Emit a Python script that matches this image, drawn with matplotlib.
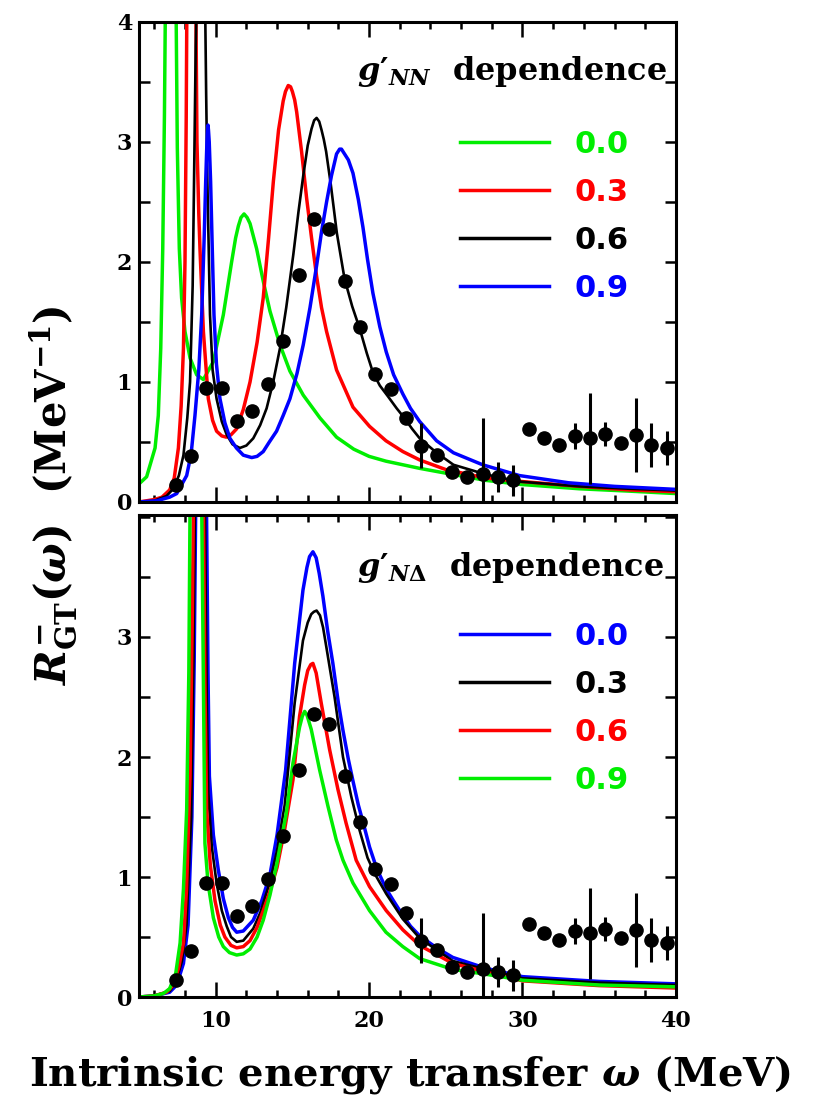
import numpy as np
import matplotlib
matplotlib.use('Agg')
import matplotlib.pyplot as plt
from matplotlib.ticker import MultipleLocator
from matplotlib.lines import Line2D

plt.rcParams['mathtext.fontset'] = 'custom'
plt.rcParams['mathtext.rm'] = 'DejaVu Serif:bold'
plt.rcParams['mathtext.it'] = 'DejaVu Serif:italic:bold'
plt.rcParams['mathtext.bf'] = 'DejaVu Serif:bold'

GREEN, RED, BLUE, BLACK = '#00ee00', '#ff0000', '#0000ff', '#000000'

# ---- experimental points (same in both panels) ----
data_x = [7.4, 8.4, 9.4, 10.4, 11.4, 12.4, 13.4, 14.4, 15.4, 16.4, 17.4, 18.4, 19.4,
          20.4, 21.4, 22.4, 23.4, 24.4, 25.4, 26.4, 27.4, 28.4, 29.4, 30.4, 31.4,
          32.4, 33.4, 34.4, 35.4, 36.4, 37.4, 38.4, 39.4]
data_y = [0.14, 0.38, 0.95, 0.95, 0.675, 0.76, 0.98, 1.34, 1.89, 2.36, 2.275, 1.84, 1.46,
          1.07, 0.94, 0.70, 0.47, 0.39, 0.25, 0.21, 0.23, 0.21, 0.18, 0.61, 0.53,
          0.475, 0.55, 0.53, 0.57, 0.49, 0.56, 0.475, 0.45]
data_err = [0, 0, 0, 0, 0, 0, 0, 0, 0, 0, 0, 0, 0,
            0, 0, 0, 0.19, 0, 0, 0, 0.47, 0.125, 0.13, 0, 0,
            0, 0.105, 0.38, 0.10, 0, 0.31, 0.18, 0.145]

# ---- top panel: g'_NN dependence ----
nn00_x = [5.0, 5.5, 6.05, 6.26, 6.42, 6.55, 6.66, 6.72, 7.08, 7.42, 7.5, 7.63, 7.78, 8.0,
          8.33, 8.76, 9.2, 9.85, 10.5, 11.04, 11.3, 11.48, 11.65, 11.85, 12.05, 12.24,
          12.67, 13.1, 13.54, 14.19, 14.84, 15.71, 16.8, 17.88, 19.0, 20.0, 21.1, 22.2,
          23.3, 25.0, 27.6, 30.0, 33.7, 37.0, 40.0]
nn00_y = [0.15, 0.21, 0.45, 0.72, 1.28, 2.11, 3.22, 4.1, 7.0, 4.1, 2.95, 2.11, 1.7, 1.42,
          1.2, 1.06, 1.02, 1.17, 1.56, 2.0, 2.2, 2.3, 2.37, 2.40, 2.37, 2.32,
          2.11, 1.84, 1.59, 1.31, 1.09, 0.89, 0.70, 0.54, 0.44, 0.38, 0.34, 0.31,
          0.28, 0.24, 0.18, 0.145, 0.11, 0.09, 0.07]

nn03_x = [5.0, 6.0, 6.5, 7.0, 7.3, 7.57, 7.75, 7.9, 8.0, 8.08, 8.13, 8.4, 8.7, 8.78, 8.9,
          8.98, 9.2, 9.52, 9.8, 10.06, 10.4, 10.7, 11.0, 11.37, 11.8, 12.24, 12.7, 13.1,
          13.45, 13.76, 14.1, 14.4, 14.55, 14.73, 14.88, 15.0, 15.15, 15.28, 15.6, 15.93,
          16.25, 16.58, 16.9, 17.23, 17.88, 18.95, 20.03, 21.1, 22.2, 23.3, 25.0, 27.6,
          30.0, 33.7, 37.0, 40.0]
nn03_y = [0.0, 0.02, 0.04, 0.1, 0.2, 0.45, 0.8, 1.28, 2.0, 3.2, 4.3, 7.0, 4.3, 3.0, 2.4,
          2.1, 1.42, 0.86, 0.68, 0.59, 0.55, 0.54, 0.56, 0.61, 0.77, 1.0, 1.33, 1.7,
          2.2, 2.67, 3.1, 3.34, 3.42, 3.47, 3.46, 3.42, 3.35, 3.25, 2.92, 2.53,
          2.2, 1.88, 1.62, 1.42, 1.1, 0.79, 0.63, 0.51, 0.42, 0.35, 0.27, 0.2,
          0.17, 0.13, 0.1, 0.085]

nn06_x = [5.0, 6.0, 6.8, 7.24, 7.6, 7.9, 8.15, 8.33, 8.5, 8.59, 8.7, 8.78, 9.05, 9.3, 9.38,
          9.46, 9.63, 9.8, 10.06, 10.4, 10.72, 11.1, 11.58, 12.0, 12.45, 12.9, 13.32, 13.75,
          14.19, 14.6, 15.06, 15.4, 15.71, 16.0, 16.25, 16.42, 16.58, 16.75, 16.9, 17.05,
          17.2, 17.5, 17.9, 18.4, 18.9, 19.4, 19.85, 20.25, 20.7, 21.23, 21.8, 22.3, 22.8,
          23.3, 24.4, 25.5, 27.6, 29.8, 33.7, 37.0, 40.0]
nn06_y = [0.0, 0.01, 0.05, 0.11, 0.22, 0.39, 0.7, 1.0, 1.8, 2.67, 3.8, 4.3, 7.0, 4.3, 3.4,
          2.67, 1.56, 1.1, 0.86, 0.67, 0.56, 0.48, 0.45, 0.47, 0.53, 0.64, 0.78, 1.0,
          1.28, 1.62, 2.06, 2.42, 2.72, 2.97, 3.11, 3.18, 3.2, 3.17, 3.1, 3.02,
          2.92, 2.65, 2.24, 1.86, 1.63, 1.44, 1.24, 1.08, 0.97, 0.88, 0.78, 0.70, 0.61,
          0.53, 0.41, 0.31, 0.23, 0.17, 0.13, 0.11, 0.095]

nn09_x = [5.0, 6.16, 7.0, 7.46, 8.11, 8.4, 8.65, 8.9, 9.09, 9.25, 9.35, 9.43, 9.47, 9.5,
          9.53, 9.58, 9.67, 9.78, 9.89, 10.05, 10.28, 10.6, 10.93, 11.35, 11.8, 12.35, 12.7,
          13.1, 13.5, 13.97, 14.4, 14.84, 15.3, 15.71, 16.15, 16.58, 16.9, 17.23, 17.55,
          17.88, 18.08, 18.2, 18.35, 18.65, 18.95, 19.3, 19.6, 19.9, 20.25, 20.7, 21.12,
          21.6, 22.2, 22.7, 23.3, 24.4, 25.5, 27.4, 29.8, 33.0, 36.0, 40.0]
nn09_y = [0.0, 0.01, 0.04, 0.07, 0.22, 0.4, 0.72, 1.1, 1.56, 2.2, 2.67, 3.0, 3.1, 3.14,
          3.1, 3.0, 2.67, 2.1, 1.56, 1.15, 0.86, 0.66, 0.53, 0.45, 0.39, 0.37, 0.38,
          0.42, 0.5, 0.59, 0.72, 0.86, 1.07, 1.31, 1.62, 1.97, 2.25, 2.5, 2.72,
          2.9, 2.94, 2.94, 2.91, 2.85, 2.74, 2.52, 2.29, 2.02, 1.74, 1.46, 1.25,
          1.06, 0.9, 0.78, 0.67, 0.51, 0.41, 0.31, 0.22, 0.16, 0.13, 0.105]

# ---- bottom panel: g'_NDelta dependence ----
nd00_x = [5.0, 6.0, 7.0, 7.46, 7.9, 8.2, 8.45, 8.6, 8.7, 9.0, 9.4, 9.5, 9.59, 9.85, 10.17,
          10.5, 10.83, 11.1, 11.37, 11.8, 12.45, 13.0, 13.54, 14.0, 14.56, 15.15, 15.69,
          15.95, 16.12, 16.34, 16.55, 16.75, 16.99, 17.3, 17.64, 18.0, 18.3, 18.65, 18.95,
          19.3, 19.6, 20.03, 20.5, 21.12, 21.6, 22.2, 22.7, 23.3, 24.4, 25.46, 27.6, 30.0,
          35.0, 40.0]
nd00_y = [0.0, 0.01, 0.04, 0.1, 0.28, 0.6, 1.5, 2.8, 4.1, 7.0, 4.1, 2.7, 1.84, 1.35, 1.06,
          0.82, 0.66, 0.58, 0.54, 0.55, 0.64, 0.8, 1.02, 1.35, 1.89, 2.78, 3.39,
          3.58, 3.67, 3.71, 3.66, 3.53, 3.34, 3.05, 2.78, 2.45, 2.22, 1.98, 1.8,
          1.6, 1.46, 1.25, 1.07, 0.9, 0.8, 0.68, 0.59, 0.51, 0.41, 0.33, 0.24, 0.17,
          0.13, 0.11]

nd03_x = [5.0, 6.0, 7.0, 7.4, 7.8, 8.1, 8.4, 8.55, 8.65, 8.95, 9.3, 9.42, 9.52, 9.75,
          10.06, 10.4, 10.72, 11.0, 11.37, 11.8, 12.45, 12.9, 13.54, 14.0, 14.5, 15.15,
          15.69, 16.0, 16.23, 16.4, 16.58, 16.8, 17.0, 17.21, 17.75, 18.3, 18.84, 19.38,
          19.9, 20.4, 21.12, 22.2, 23.3, 25.46, 27.6, 30.0, 35.0, 40.0]
nd03_y = [0.0, 0.01, 0.05, 0.12, 0.3, 0.6, 1.5, 2.8, 4.1, 7.0, 4.1, 2.5, 1.7, 1.25,
          0.95, 0.72, 0.59, 0.5, 0.46, 0.47, 0.57, 0.7, 0.96, 1.22, 1.6, 2.45,
          2.97, 3.12, 3.19, 3.21, 3.22, 3.18, 3.08, 2.92, 2.5, 2.0, 1.67, 1.39,
          1.16, 1.02, 0.86, 0.65, 0.49, 0.3, 0.23, 0.156, 0.12, 0.1]

nd06_x = [5.0, 6.0, 6.8, 7.24, 7.6, 7.9, 8.1, 8.33, 8.48, 8.55, 8.85, 9.2, 9.3, 9.41, 9.65,
          9.96, 10.3, 10.6, 11.0, 11.37, 11.8, 12.24, 12.7, 13.1, 13.54, 14.0, 14.5,
          15.04, 15.47, 15.8, 16.0, 16.2, 16.34, 16.55, 16.88, 17.43, 17.97, 18.5, 19.16,
          20.03, 21.12, 22.2, 23.3, 25.46, 27.6, 30.0, 35.0, 40.0]
nd06_y = [0.0, 0.01, 0.04, 0.1, 0.25, 0.45, 0.9, 1.84, 3.2, 4.1, 7.0, 4.1, 2.6, 1.56, 1.1,
          0.8, 0.6, 0.5, 0.43, 0.41, 0.42, 0.47, 0.58, 0.72, 0.88, 1.08, 1.4,
          1.81, 2.34, 2.6, 2.72, 2.77, 2.78, 2.7, 2.45, 2.06, 1.73, 1.45, 1.14,
          0.92, 0.72, 0.56, 0.43, 0.28, 0.21, 0.135, 0.095, 0.075]

nd09_x = [5.0, 6.0, 6.6, 7.0, 7.4, 7.68, 7.9, 8.11, 8.25, 8.33, 8.7, 9.09, 9.18, 9.3, 9.5,
          9.85, 10.2, 10.5, 10.9, 11.37, 11.8, 12.24, 12.7, 13.1, 13.54, 14.0, 14.6,
          15.04, 15.47, 15.65, 15.8, 15.95, 16.23, 16.78, 17.32, 17.86, 18.3, 18.95, 20.03,
          21.1, 22.2, 23.3, 25.46, 27.6, 30.0, 35.0, 40.0]
nd09_y = [0.0, 0.01, 0.03, 0.07, 0.2, 0.45, 0.9, 1.56, 2.7, 4.1, 7.0, 4.1, 2.9, 1.28, 0.95,
          0.66, 0.5, 0.42, 0.37, 0.35, 0.36, 0.4, 0.5, 0.64, 0.85, 1.12, 1.53,
          1.95, 2.25, 2.34, 2.38, 2.35, 2.23, 1.89, 1.59, 1.31, 1.14, 0.95, 0.72,
          0.54, 0.42, 0.32, 0.23, 0.19, 0.14, 0.1, 0.085]

top_curves = [(nn00_x, nn00_y, GREEN, '0.0'), (nn03_x, nn03_y, RED, '0.3'),
              (nn06_x, nn06_y, BLACK, '0.6'), (nn09_x, nn09_y, BLUE, '0.9')]
bot_curves = [(nd00_x, nd00_y, BLUE, '0.0'), (nd03_x, nd03_y, BLACK, '0.3'),
              (nd06_x, nd06_y, RED, '0.6'), (nd09_x, nd09_y, GREEN, '0.9')]

fig = plt.figure(figsize=(8.16, 10.96), dpi=100)
ax1 = fig.add_axes([0.1703, 0.5420, 0.658, 0.4380])
ax2 = fig.add_axes([0.1703, 0.0903, 0.658, 0.4402])

def panel(ax, curves, title, ytop, yticks, legy, titley):
    for x, y, col, lbl in curves:
        ax.plot(x, y, color=col, lw=1.9 if col == BLACK else 2.5, zorder=2,
                solid_joinstyle='round')
    ax.errorbar(data_x, data_y, yerr=data_err, fmt='o', color='k', ms=9.5,
                elinewidth=2.2, capsize=0, zorder=3)
    ax.set_xlim(5, 40); ax.set_ylim(0, ytop)
    ax.xaxis.set_major_locator(MultipleLocator(10))
    ax.xaxis.set_minor_locator(MultipleLocator(2))
    ax.set_yticks(yticks)
    ax.yaxis.set_minor_locator(MultipleLocator(0.5))
    ax.tick_params(which='both', direction='in', top=True, right=True, width=1.8)
    ax.tick_params(axis='x', which='major', length=11, pad=9)
    ax.tick_params(axis='x', which='minor', length=5)
    ax.tick_params(axis='y', which='both', length=8, pad=5)
    for lab in ax.get_xticklabels() + ax.get_yticklabels():
        lab.set_fontfamily('DejaVu Serif'); lab.set_fontweight('bold'); lab.set_fontsize(16)
    for sp in ax.spines.values():
        sp.set_linewidth(2.2)
    ax.text(0.406, titley, title, transform=ax.transAxes, ha='left', va='center',
            fontsize=23, fontfamily='DejaVu Serif', fontweight='bold')
    handles = [Line2D([], [], color=c, lw=2.5) for _, _, c, _ in curves]
    leg = ax.legend(handles, [l for _, _, _, l in curves], loc='upper left',
                    bbox_to_anchor=(0.598, legy), frameon=False, borderpad=0,
                    borderaxespad=0, handlelength=2.9, handletextpad=0.85,
                    labelspacing=0.62,
                    prop=dict(family='DejaVu Sans', weight='bold', size=22))
    for t, (_, _, c, _) in zip(leg.get_texts(), curves):
        t.set_color(c)

panel(ax1, top_curves, "$g\u2032_{NN}$  dependence", 4, [0, 1, 2, 3, 4], 0.775, 0.896)
panel(ax2, bot_curves, "$g\u2032_{N\\Delta}$  dependence", 4.02, [0, 1, 2, 3], 0.777, 0.891)
ax1.tick_params(axis='x', labelbottom=False)

fig.text(0.502, 0.019, r'Intrinsic energy transfer $\omega$ (MeV)', ha='center', va='center',
         fontsize=29, fontfamily='DejaVu Serif', fontweight='bold')
fig.text(0.066, 0.548, r'$R^{-}_{\mathrm{GT}}(\omega)$  (MeV$^{-1}$)', ha='center', va='center',
         rotation=90, fontsize=30, fontfamily='DejaVu Serif', fontweight='bold')

plt.savefig('out.png', dpi=100)
